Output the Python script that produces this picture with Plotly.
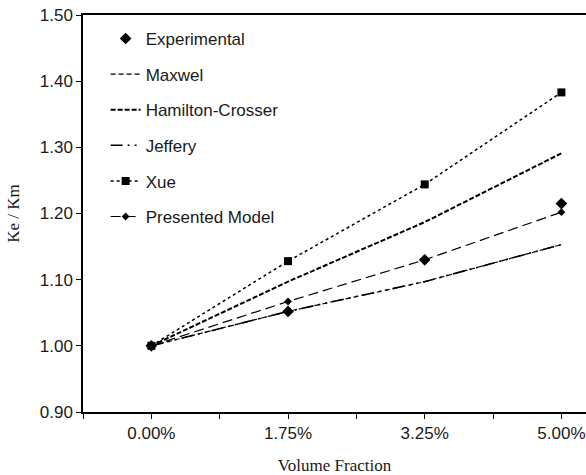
import plotly.graph_objects as go

categories = ["0.00%", "1.75%", "3.25%", "5.00%"]
experimental = [1.000, 1.052, 1.130, 1.215]
maxwel = [1.000, 1.052, 1.097, 1.153]
hamilton = [1.000, 1.097, 1.187, 1.291]
jeffery = [1.000, 1.052, 1.097, 1.153]
xue = [1.000, 1.128, 1.244, 1.383]
presented = [1.000, 1.067, 1.130, 1.202]
y_ticks = [0.90, 1.00, 1.10, 1.20, 1.30, 1.40, 1.50]

xpos = list(range(len(categories)))

fig = go.Figure()
fig.add_trace(go.Scatter(x=xpos, y=experimental, name="Experimental", mode="markers",
                         marker=dict(symbol="diamond", size=9, color="black"), legendgroup="a"))
fig.add_trace(go.Scatter(x=xpos, y=maxwel, name="Maxwel", mode="lines",
                         line=dict(color="black", width=1.2, dash="5px,3px"), legendgroup="b"))
fig.add_trace(go.Scatter(x=xpos, y=hamilton, name="Hamilton-Crosser", mode="lines",
                         line=dict(color="black", width=2, dash="5px,2px"), legendgroup="c"))
fig.add_trace(go.Scatter(x=xpos, y=jeffery, name="Jeffery", mode="lines",
                         line=dict(color="black", width=1.6, dash="12px,5px,2px,5px,2px,5px"), legendgroup="d"))
fig.add_trace(go.Scatter(x=xpos, y=xue, name="Xue", mode="lines+markers",
                         line=dict(color="black", width=1.5, dash="dot"),
                         marker=dict(symbol="square", size=8, color="black"), legendgroup="e"))
fig.add_trace(go.Scatter(x=xpos, y=presented, name="Presented Model", mode="lines+markers",
                         line=dict(color="black", width=1.2, dash="10px,5px"),
                         marker=dict(symbol="diamond", size=6, color="black"), legendgroup="f"))

serif = "Liberation Serif, Times New Roman, serif"

fig.update_layout(
    width=586, height=475,
    margin=dict(l=83, r=0, t=15, b=63),
    plot_bgcolor="white", paper_bgcolor="white",
    font=dict(family="Liberation Sans, Arial, sans-serif", size=17, color="#1a1a1a"),
    showlegend=True,
    legend=dict(x=0.045, y=0.985, xanchor="left", yanchor="top",
                bgcolor="rgba(0,0,0,0)", tracegroupgap=10.5,
                font=dict(size=17, color="#1a1a1a")),
    xaxis=dict(
        range=[-0.5, 3.18], automargin=False,
        tickmode="array", tickvals=xpos, ticktext=categories,
        ticks="outside", ticklen=5, tickcolor="black", tickwidth=1,
        showline=True, linecolor="black", linewidth=1.5, mirror=True,
        showgrid=False, zeroline=False,
        minor=dict(tickmode="array", tickvals=[-0.5, 0.5, 1.5, 2.5],
                   ticks="outside", ticklen=5, tickcolor="black", tickwidth=1),
        title=dict(text="Volume Fraction", font=dict(family=serif, size=17, color="#1a1a1a"),
                   standoff=19),
    ),
    yaxis=dict(
        range=[0.9, 1.5], automargin=False,
        tickmode="array", tickvals=y_ticks, tickformat=".2f",
        ticks="outside", ticklen=5, tickcolor="black", tickwidth=1,
        showline=True, linecolor="black", linewidth=1.5,
        showgrid=False, zeroline=False,
        title=dict(text="Ke / Km", font=dict(family=serif, size=17, color="#1a1a1a"),
                   standoff=16),
    ),
)

fig.write_html("out.html", config={"displayModeBar": False},
               post_script="document.body.style.margin='0';document.body.style.overflow='hidden';")
